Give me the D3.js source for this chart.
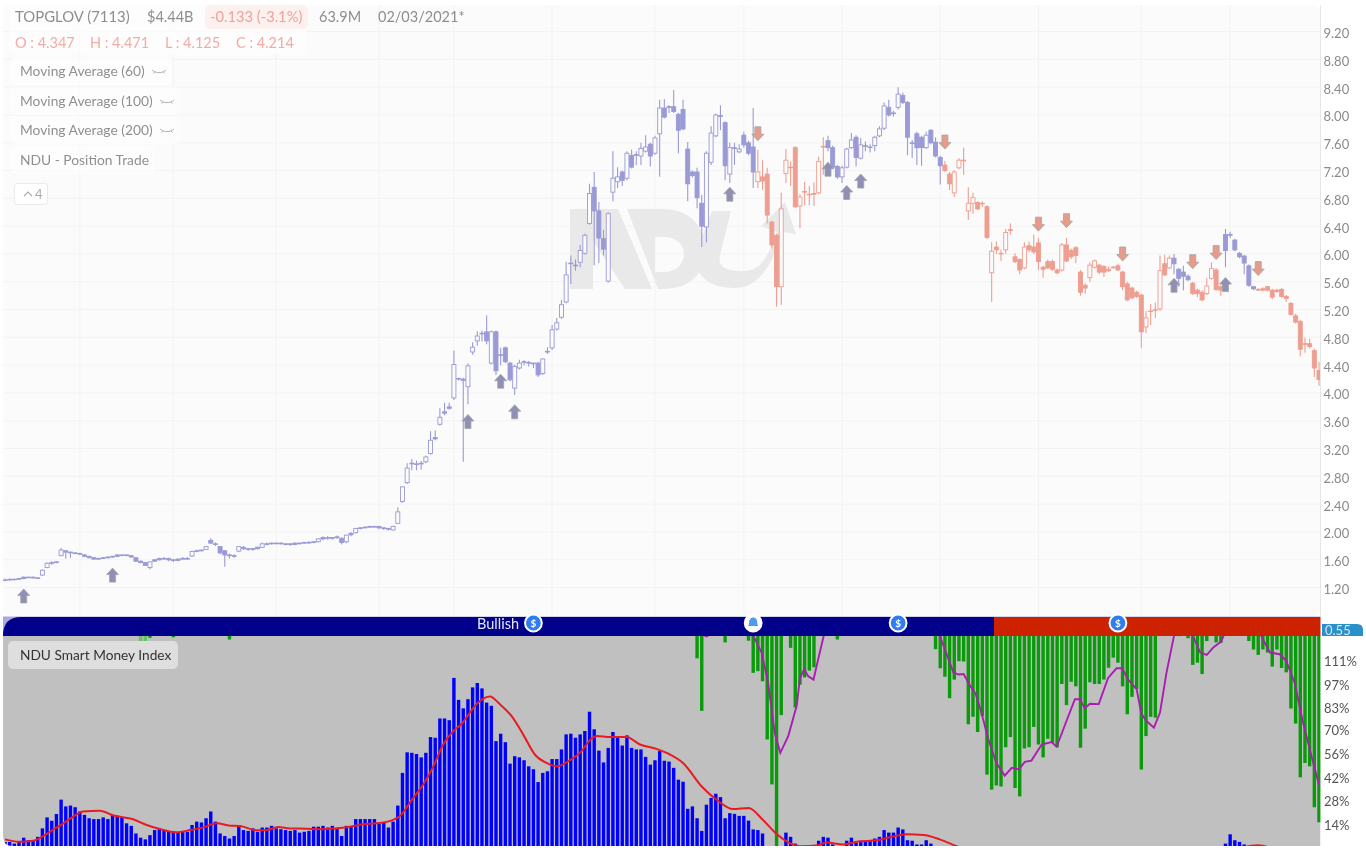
<!DOCTYPE html>
<html><head><meta charset="utf-8">
<style>html,body{margin:0;padding:0;background:#fff;overflow:hidden}svg{display:block;filter:blur(.55px)}text{font-family:Lato,"Open Sans",sans-serif}</style>
<script src="https://cdn.jsdelivr.net/npm/d3@7"></script></head><body>
<svg id="c" width="1366" height="852"></svg>
<script>
const opens=[1.33,1.33,1.34,1.34,1.35,1.37,1.37,1.36,1.40,1.51,1.57,1.58,1.68,1.75,1.73,1.72,1.71,1.69,1.67,1.65,
1.63,1.64,1.65,1.66,1.67,1.69,1.69,1.68,1.65,1.60,1.58,1.51,1.60,1.62,1.64,1.64,1.62,1.61,1.63,1.64,
1.675,1.74,1.75,1.77,1.90,1.85,1.81,1.75,1.69,1.68,1.745,1.80,1.78,1.77,1.78,1.80,1.85,1.85,1.86,1.86,
1.85,1.85,1.84,1.86,1.86,1.87,1.87,1.88,1.92,1.94,1.93,1.94,1.93,1.88,1.98,2.01,2.07,2.08,2.09,2.10,
2.10,2.08,2.07,2.05,2.145,2.46,2.73,3.00,3.00,3.00,3.03,3.15,3.36,3.57,3.73,3.80,3.95,4.22,4.22,4.11,
4.61,4.77,4.87,4.90,4.45,4.90,4.57,4.67,4.45,4.09,4.38,4.47,4.45,4.44,4.45,4.30,4.61,4.67,4.94,5.11,
5.33,5.88,5.85,5.90,6.03,6.46,6.98,6.64,6.24,5.63,6.91,7.06,7.20,7.11,7.44,7.44,7.43,7.50,7.60,7.47,
7.75,8.12,8.13,8.14,8.03,8.10,7.53,7.20,7.20,6.75,6.41,7.34,7.72,8.00,7.91,7.17,7.54,7.49,7.73,7.62,
7.56,7.06,7.13,7.17,6.48,6.29,5.55,7.18,7.27,7.55,6.71,6.91,6.88,6.88,6.90,7.56,7.65,7.55,7.28,7.13,
7.27,7.55,7.70,7.40,7.57,7.56,7.58,7.72,7.83,8.13,8.05,8.13,8.30,8.20,7.62,7.75,7.70,7.55,7.80,7.63,
7.41,7.30,7.17,6.90,7.26,7.37,6.64,6.75,6.76,6.75,6.70,5.75,6.12,6.03,6.08,6.36,5.98,5.94,5.82,6.14,
6.12,6.18,5.83,5.91,5.91,5.79,5.79,6.15,6.07,6.11,5.76,5.57,5.68,5.83,5.86,5.84,5.80,5.83,5.85,5.76,
5.59,5.53,5.47,5.43,4.97,5.20,5.22,5.23,5.88,5.82,5.96,5.80,5.76,5.70,5.60,5.50,5.47,5.45,5.67,5.79,
5.55,6.30,6.30,6.22,6.03,5.99,5.85,5.55,5.51,5.52,5.55,5.50,5.50,5.51,5.41,5.31,5.13,5.05,4.73,4.73,4.63,4.347];
const highs=[1.35,1.35,1.35,1.36,1.38,1.38,1.38,1.37,1.48,1.58,1.60,1.60,1.79,1.76,1.74,1.73,1.72,1.70,1.68,1.66,
1.65,1.66,1.67,1.68,1.70,1.70,1.70,1.69,1.66,1.61,1.59,1.60,1.63,1.65,1.66,1.65,1.63,1.64,1.66,1.66,
1.75,1.77,1.77,1.82,1.93,1.87,1.82,1.76,1.71,1.70,1.82,1.82,1.79,1.79,1.81,1.87,1.87,1.87,1.87,1.87,
1.86,1.86,1.87,1.87,1.88,1.89,1.89,1.93,1.96,1.96,1.95,1.97,1.94,1.98,2.02,2.08,2.09,2.10,2.11,2.11,
2.11,2.09,2.08,2.11,2.375,2.67,3.01,3.07,3.05,3.04,3.12,3.47,3.48,3.80,3.88,3.88,4.63,4.24,4.24,4.45,
4.75,4.91,4.92,5.14,4.92,4.92,4.67,4.69,4.47,4.43,4.50,4.49,4.48,4.46,4.47,4.52,4.68,5.00,5.10,5.36,
5.91,6.00,5.94,6.15,6.31,7.03,7.20,6.77,6.37,6.62,7.50,7.27,7.22,7.50,7.52,7.50,7.62,7.73,7.62,7.72,
8.24,8.25,8.16,8.38,8.05,8.24,7.63,7.22,7.26,6.87,7.50,7.86,8.04,8.16,7.93,7.62,7.62,7.60,7.78,7.65,
8.12,7.52,7.37,7.26,6.50,6.31,6.90,7.53,7.35,7.57,6.88,7.06,7.00,7.05,7.42,7.70,7.72,7.58,7.30,7.29,
7.55,7.76,7.73,7.69,7.64,7.60,7.72,7.86,8.20,8.24,8.08,8.42,8.34,8.22,7.66,7.78,7.72,7.78,7.82,7.70,
7.43,7.36,7.20,7.23,7.40,7.55,6.98,6.90,6.78,6.78,6.72,6.19,6.20,6.08,6.38,6.46,6.03,5.96,6.19,6.20,
6.30,6.25,5.85,5.94,5.94,5.81,6.18,6.25,6.10,6.13,5.79,5.60,5.90,5.94,5.88,5.86,5.84,5.85,5.88,5.78,
5.62,5.55,5.49,5.45,5.20,5.30,5.32,6.00,6.01,6.00,6.02,5.82,5.85,5.73,5.62,5.52,5.50,5.67,5.90,5.82,
5.57,6.38,6.34,6.24,6.05,6.01,5.87,5.56,5.53,5.54,5.56,5.52,5.52,5.53,5.43,5.33,5.16,5.07,4.82,4.80,4.66,4.471];
const lows=[1.32,1.32,1.33,1.33,1.34,1.36,1.35,1.35,1.39,1.50,1.55,1.57,1.67,1.64,1.65,1.70,1.69,1.66,1.64,1.62,
1.62,1.63,1.64,1.65,1.66,1.67,1.67,1.65,1.59,1.57,1.53,1.48,1.59,1.61,1.62,1.60,1.59,1.60,1.62,1.62,
1.66,1.73,1.74,1.76,1.85,1.82,1.70,1.52,1.64,1.65,1.73,1.76,1.75,1.75,1.77,1.79,1.83,1.84,1.84,1.84,
1.83,1.82,1.83,1.84,1.85,1.85,1.86,1.87,1.90,1.91,1.91,1.92,1.84,1.86,1.96,2.00,2.06,2.07,2.08,2.08,
2.06,2.05,2.04,2.04,2.14,2.44,2.71,2.91,2.91,2.92,3.01,3.13,3.34,3.55,3.70,3.78,3.92,4.20,3.03,3.86,
4.57,4.70,4.76,4.72,4.43,4.28,4.42,4.45,4.19,3.99,4.36,4.42,4.40,4.38,4.25,4.28,4.58,4.64,4.92,5.09,
5.31,5.59,5.78,5.83,6.01,6.44,5.86,5.89,6.00,5.61,6.78,6.97,7.00,7.08,7.25,7.30,7.30,7.48,7.28,7.45,
7.13,7.97,8.05,8.05,7.47,7.80,6.78,7.12,6.68,6.12,6.19,7.30,7.70,7.80,7.08,7.04,7.30,7.47,7.55,7.44,
6.97,6.97,6.94,6.46,6.10,5.26,5.29,7.04,7.00,6.68,6.39,6.72,6.72,6.71,6.88,7.16,7.50,7.25,7.10,7.04,
7.25,7.53,7.28,7.38,7.50,7.48,7.50,7.70,7.80,8.00,8.00,8.10,8.18,7.44,7.40,7.30,7.29,7.53,7.60,7.41,
7.02,7.20,6.94,6.84,7.24,7.16,6.51,6.60,6.65,6.70,6.24,5.33,6.02,5.92,6.02,6.30,5.89,5.73,5.80,6.04,
6.02,5.79,5.68,5.80,5.78,5.73,5.77,5.90,5.95,5.89,5.42,5.45,5.62,5.81,5.73,5.69,5.76,5.81,5.78,5.50,
5.34,5.37,5.39,4.67,4.88,5.00,5.10,5.20,5.70,5.80,5.73,5.55,5.50,5.63,5.43,5.40,5.34,5.43,5.65,5.49,
5.42,5.83,6.25,6.06,5.96,5.73,5.55,5.50,5.49,5.48,5.48,5.37,5.46,5.39,5.33,5.13,5.02,4.55,4.60,4.66,4.25,4.125];
const closes=[1.33,1.34,1.34,1.35,1.37,1.37,1.36,1.36,1.47,1.57,1.58,1.59,1.76,1.73,1.72,1.71,1.70,1.67,1.65,1.63,
1.64,1.65,1.66,1.67,1.69,1.69,1.68,1.66,1.60,1.58,1.54,1.59,1.62,1.64,1.64,1.62,1.61,1.63,1.64,1.63,
1.74,1.75,1.76,1.81,1.86,1.84,1.72,1.69,1.68,1.67,1.81,1.78,1.77,1.78,1.80,1.85,1.85,1.86,1.86,1.85,
1.85,1.84,1.86,1.86,1.87,1.87,1.88,1.92,1.94,1.93,1.94,1.95,1.87,1.975,2.00,2.07,2.08,2.09,2.10,2.10,
2.08,2.07,2.06,2.10,2.31,2.67,2.94,3.01,3.00,3.01,3.10,3.34,3.38,3.67,3.75,3.82,4.43,4.23,4.20,4.41,
4.68,4.84,4.88,4.77,4.90,4.34,4.56,4.47,4.21,4.40,4.45,4.47,4.46,4.45,4.28,4.51,4.62,4.93,5.03,5.29,
5.72,5.89,5.86,6.07,6.29,6.89,6.64,6.25,6.09,6.60,7.11,7.13,7.08,7.47,7.27,7.45,7.54,7.56,7.43,7.69,
8.12,7.99,8.14,8.07,7.80,7.82,7.03,7.15,6.83,6.42,7.47,7.76,8.02,8.01,7.29,7.55,7.55,7.53,7.59,7.47,
7.20,7.20,7.07,6.58,6.15,5.55,6.67,7.37,7.27,6.70,6.84,6.92,6.88,6.89,7.35,7.57,7.55,7.27,7.13,7.26,
7.53,7.66,7.41,7.59,7.58,7.56,7.70,7.82,8.15,8.02,8.04,8.32,8.20,7.70,7.61,7.55,7.55,7.73,7.62,7.43,
7.29,7.22,7.03,7.20,7.37,7.37,6.75,6.83,6.67,6.75,6.26,6.06,6.08,6.03,6.33,6.37,5.91,5.79,6.12,6.08,
6.05,5.91,5.80,5.82,5.80,5.75,6.15,5.92,5.98,6.00,5.47,5.53,5.86,5.92,5.76,5.76,5.78,5.83,5.79,5.55,
5.36,5.39,5.41,4.90,5.10,5.20,5.22,5.78,5.72,5.96,5.88,5.67,5.70,5.65,5.45,5.45,5.36,5.56,5.81,5.51,
5.50,6.07,6.29,6.08,5.98,5.89,5.57,5.52,5.50,5.50,5.50,5.40,5.48,5.41,5.38,5.15,5.04,4.65,4.72,4.69,4.38,4.214];
const bearishRanges=[[161,175],[201,249],[254,260],[268,281]];
const upArrowIdx=[4,23,99,106,109,155,176,180,183,250,261];
const upArrowPrice=[1.10,1.40,3.61,4.19,3.75,6.88,7.24,6.905,7.07,5.57,5.58];
const downArrowIdx=[161,201,221,227,239,254,259,268];
const downArrowPrice=[7.75,7.63,6.45,6.50,6.02,5.91,6.04,5.81];
const priceTicks=[1.2,1.6,2.0,2.4,2.8,3.2,3.6,4.0,4.4,4.8,5.2,5.6,6.0,6.4,6.8,7.2,7.6,8.0,8.4,8.8,9.2];
const gridIdx=[16,36,58,80,96,117,139,158,179,200,221,243,262];
const blueVals=[4,4,3,4,6.5,5,5,7,12,18.5,16.5,20.5,29,25,25.5,24.5,22,20,18,17.5,17.5,18.5,17.5,20,19.5,18.5,15,13.5,9,6.5,5.5,8,11,12,11,10.5,9.5,9.5,10,10,
14,16,15.5,18,22,16,9,7.5,6,7.5,14,11,10.5,12,10,12.5,12.5,13.5,12,11.5,11,10.5,11,9.5,10,10.5,13,13,13.5,12.5,13.5,12,7.5,13.5,13,17.5,17.5,17.5,17.5,17.5,15,15.5,12.5,16,25.5,
44.8,57,56.7,56,54,56.7,66,65.6,77,77,76,101,88,83,88.4,95.4,98,94.8,86.4,84.5,63.6,68,63,50.3,54.7,54,52.3,48.7,47,39.4,44.8,45.8,53,53,58.7,67.6,68,65.6,67.6,69.6,81,70.6,58,51,59.6,69,65.6,61,67,59.6,58.7,58.7,54.3,49.7,52.3,57.7,52,51.5,47.8,40.8,39.6,23.6,25,18,10.5,26,30,32.5,30.5,18,21,20.6,19.4,19.4,16.6,11.4,11,9,
0,0,0,0,9.5,7,3,0,0,0,0,4.7,7,6.5,2.5,0,0,4.7,6.5,3.5,4.7,4.7,4.7,6,7,11,9.5,9.5,12.5,11.4,5,4.7,2.5,2.5,5,3];
const blueLateIdx=[261,262,263,264,265];
const blueLateVal=[3,8.5,5,4,2.5];
const greenIdx=[29,30,31,36,48,148,149,154,159,160,161,162,163,164,165,166,168,169,170,171,172,173,178,199,200,201,202,203,204,205,206,207,208,209,210,211,212,213,214,215,216,217,218,219,220,221,222,223,224,225,226,227,228,229,230,231,232,233,234,235,236,237,238,239,240,241,242,243,244,245,246,251,253,254,255,256,257,259,260,266,267,268,269,270,271,272,273,274,275,276,277,278,279,280,281];
const greenVal=[118.6,118.6,124.7,125,123.7,112.6,81.5,122,123,104,105,99,64.6,38,0,79,118.8,83.5,97,101.3,105.3,107.3,123.7,118,106.7,101.7,89,100,110.9,110.7,73.6,78,69,78.5,43.8,34.9,37.4,36.8,60,66,35.9,30.9,59.3,60,72,61.6,54,65,62.6,60,97.4,84.9,98.7,96,59.7,71,98.4,97.4,97.4,100,107,113,110,96,79.5,89.8,94.4,46.8,66.6,78,77.5,125.7,124.5,108.7,110,103.3,122.8,122,121.6,122.8,117.8,114.6,117.8,116,107.7,117.8,106.9,104.3,82.9,74,42.2,50.7,48.7,24.5,15.6];
const redIdx=[0,3,6,8,10,12.5,14.6,16.7,20.3,23.2,27.4,30.3,33.1,36.7,39.6,42.4,45.3,48.1,50.2,53.8,56,58.4,60.9,64.5,67.4,70.2,73,76.6,79.5,83,84.5,87,89.4,91.6,93.7,95.9,97.6,99.4,101.2,103.7,105.8,108.3,110.8,113.3,115.8,118,120.8,123.3,125.1,126.5,129.4,132.9,135.8,139.3,142.2,145,149,152.2,155.7,159,162.1,165,170,173.9,175.7,179.3,182.1,186.7,190.7,192.8,196.4,199.9,203.5,208,262,265,268,270,272];
const redVal=[5.5,4.1,4.7,7.1,10.7,15,19,22,22.4,19.6,17.4,14,11.6,9.7,11,12.6,15,13.6,13.4,10.9,11,12.8,12,11.8,11.5,12,12.6,14.4,15,17,19.4,28.9,37.8,48.7,61.6,69.6,73.6,80.5,86.4,90,85.5,78.5,67.6,55.7,50.7,48.7,52.3,57.7,64.2,66.6,66,66,61.6,59,55.7,50.7,36.8,28.9,23.4,24,17,8.7,1.5,2.1,3.7,2.5,4.1,5.1,7.7,8.5,8.1,5.5,1.5,-3,-3,1,2,1,-3];
const purpleIdx=[147,150,153,157,160,161.8,163.2,164.6,165.8,167.5,169.3,170,170.9,171.8,172.9,173.9,175.1,177,198,199.9,202.8,203.9,205,206.3,207.6,208.8,210.3,212,213.8,215.3,216.8,218.1,219.5,221.7,223.8,224.9,227,228.8,229.9,230.9,232,233.9,235.9,237.7,238.9,240.2,242,243,244.1,245.7,247,248.4,250,252,254,255.6,257,258.4,260.1,260.6,263,267,268.6,270.5,272.6,274,275.8,277.6,279.4,281];
const purpleVal=[130,125.5,130,135,126,116,98,68.6,56.7,66.6,84.5,101,106,102,100,112,126,135,135,126,104.3,103,103.3,96.8,91.4,80.5,64.6,50.7,43.2,47.8,46.8,51.3,52.1,61.6,63,60.3,75.5,88.4,88.4,83,85.7,85.5,101,106.7,106.7,100,94.4,80,75.5,71.6,80.5,104.3,126,135,126,116,114.6,119,122.6,126,135,135,126,116,115,111,98,74.5,54.7,37.8];
const smiTicks=[14,28,42,56,70,83,97,111];
const regimeLabel="Bullish", regimeSplit=211.5, bellIdx=[160], moneyIdx=[113,191,238];
const signalValue="0.55";

const X0=3,X1=1320.5,PT=5,PB=616,BT=617,BB=636,LT=636,LB=846;
const x=d3.scaleLinear().domain([0,281]).range([5,1319]);
const y=d3.scaleLinear().domain([1.2,9.2]).range([589,33]);
const y2=d3.scaleLinear().domain([14,111]).range([825,661]);
const svg=d3.select("#c"), defs=svg.append("defs");
const PURPLE="#9a9ad6",SALMON="#ee9e90",BG="#fbfbfb";
defs.append("clipPath").attr("id","lower").append("path").attr("d",`M${X0},${LT}H${X1}V${LB}H${X0+10}Q${X0},${LB} ${X0},${LB-10}Z`);
defs.append("clipPath").attr("id","upper").append("rect").attr("x",X0).attr("y",PT).attr("width",X1-X0).attr("height",PB-PT);

svg.append("rect").attr("x",X0).attr("y",PT).attr("width",X1-X0).attr("height",PB-PT).attr("rx",8).attr("fill",BG);
const grid=svg.append("g").attr("stroke","#f3f3f3");
grid.selectAll(".h").data(priceTicks).join("line").attr("x1",X0).attr("x2",X1).attr("y1",d=>y(d)-1.5).attr("y2",d=>y(d)-1.5);
grid.selectAll(".v").data(gridIdx).join("line").attr("x1",d=>x(d)).attr("x2",d=>x(d)).attr("y1",PT).attr("y2",PB);

const wm=svg.append("g").attr("fill","#e9e9e9").attr("fill-rule","evenodd");
wm.append("path").attr("d","M570,209H618L652,289H625L593,241V289H570Z");
wm.append("path").attr("d","M627,209H662C690,209 705,226 705,250C705,274 690,289 662,289H658ZM655,237V272H664C676,272 684,264 684,254C684,244 676,237 664,237Z");
wm.append("path").attr("d","M712,211H731L720,255C717,268 728,271 742,271C758,271 767,262 777,232L761,226L785,202L796,234L783,232C770,272 755,288 735,288C705,288 692,272 697,250Z");

const idx=d3.range(closes.length);
const isBear=i=>bearishRanges.some(r=>i>=r[0]&&i<=r[1]);
const candles=svg.append("g").attr("clip-path","url(#upper)");
candles.selectAll(".w").data(idx).join("line")
 .attr("x1",i=>x(i)).attr("x2",i=>x(i)).attr("y1",i=>y(highs[i])).attr("y2",i=>y(lows[i]))
 .attr("stroke",i=>isBear(i)?SALMON:PURPLE).attr("stroke-width",1.1);
candles.selectAll(".b").data(idx).join("rect")
 .attr("x",i=>x(i)-2).attr("width",4)
 .attr("y",i=>Math.min(y(opens[i]),y(closes[i])))
 .attr("height",i=>Math.max(.6,Math.abs(y(opens[i])-y(closes[i]))))
 .attr("fill",i=>closes[i]>opens[i]&&Math.abs(y(opens[i])-y(closes[i]))>2?BG:(isBear(i)?SALMON:PURPLE))
 .attr("stroke",i=>isBear(i)?SALMON:PURPLE).attr("stroke-width",.9);

const arrowPath="M0,-7L6,-.5H3V7H-3V-.5H-6Z";
const arrows=svg.append("g").attr("stroke","#a3a3a3").attr("stroke-width",.8);
arrows.selectAll(".u").data(upArrowIdx).join("path").attr("d",arrowPath).attr("fill","#9090b6")
 .attr("transform",(d,k)=>`translate(${x(d)},${y(upArrowPrice[k])})`);
arrows.selectAll(".d").data(downArrowIdx).join("path").attr("d",arrowPath).attr("fill","#e79c8a")
 .attr("transform",(d,k)=>`translate(${x(d)},${y(downArrowPrice[k])}) scale(1,-1)`);

svg.append("line").attr("x1",X1).attr("x2",X1).attr("y1",PT).attr("y2",PB).attr("stroke","#e6e6e6");
const ax1=svg.append("g").attr("transform",`translate(${X1},0)`).call(d3.axisRight(y).tickValues(priceTicks).tickFormat(d3.format(".2f")).tickSize(0).tickPadding(3));
ax1.select(".domain").remove();
ax1.selectAll("text").attr("font-size",13).attr("fill","#8a8a8a").attr("font-family","Lato").attr("dy","0.35em");

// lower panel
svg.append("rect").attr("x",X0).attr("y",LT).attr("width",X1-X0).attr("height",LB-LT).attr("fill","#c0c0c0").attr("clip-path","url(#lower)");
const lower=svg.append("g").attr("clip-path","url(#lower)");
const blueAll=blueVals.map((v,i)=>[i,v]).concat(blueLateIdx.map((d,k)=>[d,blueLateVal[k]])).filter(d=>d[1]>0);
lower.selectAll(".bb").data(blueAll).join("rect").attr("x",d=>x(d[0])-1.7).attr("width",3.4)
 .attr("y",d=>y2(d[1])).attr("height",d=>y2(0)-y2(d[1])).attr("fill","#0000ff");
lower.selectAll(".gb").data(greenIdx).join("rect").attr("x",d=>x(d)-1.7).attr("width",3.4)
 .attr("y",LT).attr("height",(d,k)=>y2(greenVal[k])-LT).attr("fill",(d,k)=>k<2?"#5fc95f":"#0b9a0b");
const redLine=d3.line().x(d=>x(d[0])).y(d=>y2(d[1])).curve(d3.curveMonotoneX);
const purpleLine=d3.line().x(d=>x(d[0])).y(d=>y2(d[1]));
lower.append("path").attr("d",redLine(redIdx.map((d,k)=>[d,redVal[k]]))).attr("fill","none").attr("stroke","#ea1a22").attr("stroke-width",2);
lower.append("path").attr("d",purpleLine(purpleIdx.map((d,k)=>[d,purpleVal[k]]))).attr("fill","none").attr("stroke","#a81fb0").attr("stroke-width",1.9);

// regime band
svg.append("rect").attr("x",X0).attr("y",PB).attr("width",X1-X0).attr("height",1.5).attr("fill","#d4d4ea");
svg.append("rect").attr("x",X0).attr("y",BT).attr("width",24).attr("height",BB-BT).attr("fill","#a9a9e0");
const splitX=x(regimeSplit);
svg.append("path").attr("d",`M${X0},${BB}Q${X0},${BT} ${X0+18},${BT}H${splitX}V${BB}Z`).attr("fill","#00008b");
svg.append("rect").attr("x",splitX).attr("y",BT).attr("width",X1-splitX).attr("height",BB-BT).attr("fill","#cc2200");
svg.append("text").attr("x",477).attr("y",629).attr("font-size",14.5).attr("fill","#e6e6f6").text(regimeLabel);
const badge=(i,glyph)=>{const g=svg.append("g").attr("transform",`translate(${x(i)},623)`);
 g.append("circle").attr("r",8.4).attr("fill","#2f7df0").attr("stroke","#fff").attr("stroke-width",2);
 if(glyph==="$")g.append("text").attr("text-anchor","middle").attr("y",3.5).attr("font-size",10).attr("font-weight",700).attr("fill","#fff").text("$");
 else{g.select("circle").attr("fill","#fff");g.append("path").attr("d","M-5,3C-4,1.5 -4,-1 -4,-1.5C-4,-4 -1.5,-5.5 0,-5.5C1.5,-5.5 4,-4 4,-1.5C4,-1 4,1.5 5,3Z").attr("fill","#4d9de8");}};
moneyIdx.forEach(i=>badge(i,"$"));bellIdx.forEach(i=>badge(i,"b"));
svg.append("path").attr("d","M1322,624H1357Q1363,624 1363,630V636H1322Z").attr("fill","#2a90cb");
svg.append("text").attr("x",1325).attr("y",635).attr("font-size",13).attr("fill","#d5e8f5").text(signalValue);

const ax2=svg.append("g").attr("transform",`translate(${X1},0)`).call(d3.axisRight(y2).tickValues(smiTicks).tickFormat(d=>d+"%").tickSize(0).tickPadding(3.5));
ax2.select(".domain").remove();
ax2.selectAll("text").attr("font-size",13).attr("fill","#555").attr("font-family","Lato").attr("dy","0.35em");

// legend
svg.append("rect").attr("x",8).attr("y",641).attr("width",170).attr("height",28).attr("rx",5).attr("fill","#dedede");
svg.append("text").attr("x",20).attr("y",660).attr("font-size",13.7).attr("fill","#333").text("NDU Smart Money Index");

svg.append("rect").attr("x",9).attr("y",5).attr("width",298).attr("height",50).attr("rx",5).attr("fill","#fff").attr("opacity",.6);
const hdr=[["TOPGLOV (7113)",15,"#8e8e8e",14.9],["$4.44B",147,"#8e8e8e",14.5],["63.9M",319,"#8e8e8e",14.5],["02/03/2021*",378,"#8e8e8e",14.5]];
svg.append("rect").attr("x",205).attr("y",5).attr("width",103).attr("height",24).attr("rx",5).attr("fill","#fdf1ef");
hdr.forEach(h=>svg.append("text").attr("x",h[1]).attr("y",22).attr("font-size",h[3]).attr("fill",h[2]).text(h[0]));
svg.append("text").attr("x",210).attr("y",22).attr("font-size",14.7).attr("fill","#f0a29a").text("-0.133 (-3.1%)");
[["O : 4.347",15],["H : 4.471",90],["L : 4.125",165],["C : 4.214",236]].forEach(h=>svg.append("text").attr("x",h[1]).attr("y",48).attr("font-size",14.5).attr("fill","#f3aba5").text(h[0]));
const eye=(cx,cy)=>svg.append("path").attr("d",`M${cx-7},${cy-1}C${cx-3},${cy+2.5} ${cx+3},${cy+2.5} ${cx+7},${cy-1}M${cx-4},${cy+1}L${cx-5.5},${cy+2.5}M${cx+4},${cy+1}L${cx+5.5},${cy+2.5}`).attr("fill","none").attr("stroke","#aaa").attr("stroke-width",.9);
[["Moving Average (60)",71,172,159],["Moving Average (100)",101,180,167],["Moving Average (200)",130,180,167],["NDU - Position Trade",160,155,null]].forEach(r=>{
 svg.append("rect").attr("x",10).attr("y",r[1]-14).attr("width",r[2]-10).attr("height",28).attr("rx",6).attr("fill","#fff").attr("opacity",.6);
 svg.append("text").attr("x",20).attr("y",r[1]+5).attr("font-size",13.8).attr("fill","#909090").text(r[0]);
 if(r[3])eye(r[3],r[1]);
});
svg.append("rect").attr("x",14.5).attr("y",183.5).attr("width",33).attr("height",21).attr("rx",3).attr("fill","#fff").attr("stroke","#eaeaea");
svg.append("path").attr("d","M24,196L28,192L32,196").attr("fill","none").attr("stroke","#aaa").attr("stroke-width",1.1);
svg.append("text").attr("x",35).attr("y",199).attr("font-size",13).attr("fill","#aaa").text("4");
</script></body></html>
